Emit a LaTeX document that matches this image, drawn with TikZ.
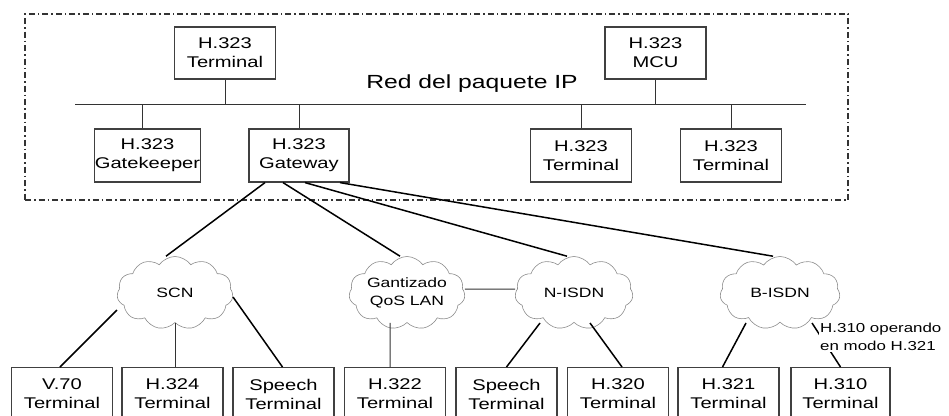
\documentclass[tikz,border=0pt]{standalone}
\usepackage{fontspec}
\setmainfont{Liberation Sans}[FakeStretch=1.3]
\usetikzlibrary{shapes.symbols,calc}
\tikzset{
  box/.style={draw=black!75, line width=1.2pt, rectangle, inner sep=0pt,
    minimum width=101pt, minimum height=52pt, align=center,
    font=\fontsize{15.5}{19}\selectfont, text=black},
  bbox/.style={box, anchor=north, minimum height=53pt},
  netcloud/.style={cloud, cloud puffs=11, cloud puff arc=110, cloud ignores aspect,
    draw=black!45, line width=0.6pt, inner sep=0pt, minimum width=116pt,
    minimum height=73pt, align=center, font=\fontsize{13.5}{18}\selectfont, text=black},
  conn/.style={draw=black, line width=1.5pt},
  busline/.style={draw=black!80, line width=1pt},
  netbox/.style={draw=black!80, line width=1.1pt, dash pattern=on 6pt off 3pt on 1.5pt off 3pt},
  lbl/.style={fill=white, inner sep=1pt, align=left, font=\fontsize{13}{18}\selectfont, text=black}
}
\begin{document}
\begin{tikzpicture}[x=1pt,y=-1pt]
\useasboundingbox (0,0) rectangle (949,415);
\clip (0,0) rectangle (949,415);
% IP network frame
\node[netbox, minimum width=823pt, minimum height=186pt, inner sep=0pt] (ipnet) at (436.5,107) {};
% top nodes
\node[box] (tterm) at (225,53) {H.323\\Terminal};
\node[box] (mcu) at (655.5,53) {H.323\\MCU};
\node[box, minimum height=53pt] (gk) at (147.5,155.5) {H.323\\Gatekeeper};
\node[box, minimum width=100pt, minimum height=53pt] (gw) at (299,155.5) {H.323\\Gateway};
\node[box, minimum height=53pt] (t1) at (581,155.5) {H.323\\Terminal};
\node[box, minimum height=53pt] (t2) at (731,155.5) {H.323\\Terminal};
\node[font=\fontsize{19}{22}\selectfont, text=black, inner sep=0pt] (iplabel) at (472,84) {Red del paquete IP};
% bus
\coordinate (busL) at (75,104);
\coordinate (busR) at (806,104);
\draw[busline] (busL) -- (busR);
\draw[busline] (tterm.south) -- (tterm.south |- busL);
\draw[busline] (mcu.south) -- (mcu.south |- busL);
\draw[busline] ([xshift=-5pt]gk.north) -- ([xshift=-5pt]gk.north |- busL);
\draw[busline] (gw.north) -- (gw.north |- busL);
\draw[busline] (t1.north) -- (t1.north |- busL);
\draw[busline] (t2.north) -- (t2.north |- busL);
% clouds
\node[netcloud] (scn) at (175,293) {SCN};
\node[netcloud] (qos) at (407,293) {Gantizado\\QoS LAN};
\node[netcloud, minimum width=118pt] (nisdn) at (574,293) {N-ISDN};
\node[netcloud, minimum width=120pt] (bisdn) at (780,293) {B-ISDN};
% bottom terminals
\node[bbox] (b1) at (62,367) {V.70\\Terminal};
\node[bbox] (b2) at (172.5,367) {H.324\\Terminal};
\node[bbox] (b3) at (283.5,367) {Speech\\Terminal};
\node[bbox] (b4) at (395,367) {H.322\\Terminal};
\node[bbox] (b5) at (506.5,367) {Speech\\Terminal};
\node[bbox] (b6) at (618,367) {H.320\\Terminal};
\node[bbox] (b7) at (728.5,367) {H.321\\Terminal};
\node[bbox, minimum width=99pt] (b8) at (840.5,367) {H.310\\Terminal};
% gateway to clouds
\draw[conn] ([xshift=-34pt]gw.south) -- ([xshift=-9pt]scn.north);
\draw[conn] ([xshift=-16pt]gw.south) -- ([xshift=-7pt]qos.north);
\draw[conn] ([xshift=6pt]gw.south) -- ([xshift=-7pt]nisdn.north);
\draw[conn] ([xshift=41pt]gw.south) -- ([xshift=-7pt]bisdn.north);
% cloud to cloud
\draw[busline] ([yshift=4pt]qos.east) -- ([yshift=4pt]nisdn.west);
% clouds to terminals
\draw[conn] ($(scn)+(-58,17)$) -- ([xshift=-2pt]b1.north);
\draw[busline] (scn.south) -- (scn.south |- b2.north);
\draw[conn] ($(scn)+(58,4)$) -- ([xshift=-1pt]b3.north);
\draw[busline] ($(qos.south)+(-17,0)$) -- ($(b4.north)+(-5,0)$);
\draw[conn] ($(nisdn)+(-34,30)$) -- (b5.north);
\draw[conn] ($(nisdn)+(16,30)$) -- ($(b6.north)+(4,0)$);
\draw[conn] ($(bisdn)+(-34,30)$) -- ($(b7.north)+(-6,0)$);
\draw[conn] ($(bisdn)+(32,30)$) -- (b8.north);
\node[lbl, anchor=west] (h310lab) at (819,337) {H.310 operando\\en modo H.321};
\end{tikzpicture}
\end{document}
